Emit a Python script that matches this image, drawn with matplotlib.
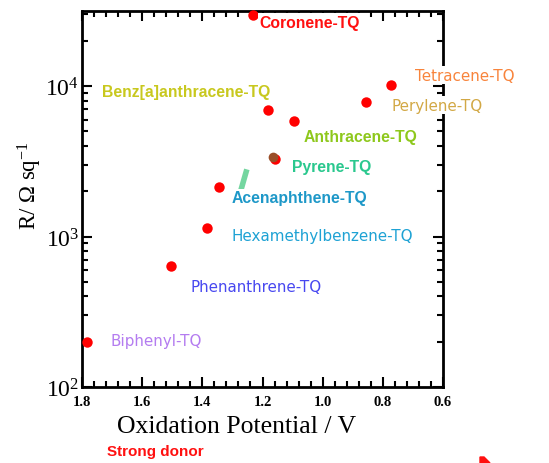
import matplotlib
matplotlib.use("Agg")
import matplotlib.pyplot as plt
from matplotlib.ticker import MultipleLocator, LogLocator, NullFormatter
from matplotlib.patches import Polygon

plt.rcParams["mathtext.fontset"] = "custom"
plt.rcParams["mathtext.rm"] = "Liberation Serif"
plt.rcParams["mathtext.it"] = "Liberation Serif:italic"

# ── Data (oxidation potential in V, sheet resistance in ohm/sq) ──
names = ["Coronene-TQ", "Tetracene-TQ", "Perylene-TQ", "Benz[a]anthracene-TQ",
         "Anthracene-TQ", "Pyrene-TQ", "Acenaphthene-TQ",
         "Hexamethylbenzene-TQ", "Phenanthrene-TQ", "Biphenyl-TQ"]
potential = [1.233, 0.774, 0.856, 1.183, 1.096, 1.158, 1.344, 1.384, 1.503, 1.782]
resistance = [29900, 10200, 7820, 6920, 5870, 3280, 2145, 1143, 637, 199]

pyrene_x = [1.164]
pyrene_y = [3380]

# label anchor points (left edge, vertical centre)
label_x = [1.209, 0.694, 0.770, 1.734, 1.062, 1.102, 1.302, 1.302, 1.438, 1.704]
label_y = [26700, 11840, 7470, 9260, 4640, 2930, 1820, 1016, 464, 203]
label_colors = ["#ff1010", "#f8843c", "#d2a845", "#c8c81e", "#8ec81c",
                "#2ac88e", "#1e98c8", "#1ea2d4", "#4848f0", "#b47cf0"]
label_bold = [True, False, False, True, True, True, True, False, False, False]

# small green mark left on the original
mark_x = [1.272, 1.252]
mark_y = [2030, 2800]

fig = plt.figure(figsize=(5.49, 4.64), dpi=100)
ax = fig.add_axes([82 / 549, 1 - 388 / 464, 361 / 549, 376 / 464])

ax.set_yscale("log")
ax.set_xlim(1.8, 0.6)
ax.set_ylim(100, 10 ** 4.5)

ax.plot(mark_x, mark_y, color="#74d6a0", lw=4, solid_capstyle="butt", zorder=2)
ax.plot(potential, resistance, "o", color="#ff0000", ms=7.5, mec="none",
        clip_on=False, zorder=4)
ax.plot(pyrene_x, pyrene_y, "o", color="#9a4e28", ms=7, mec="none",
        clip_on=False, zorder=4)

for nm, lx, ly, c, b in zip(names, label_x, label_y, label_colors, label_bold):
    ax.text(lx, ly, nm, color=c, fontsize=11.3 if b else 10.9,
            family="Liberation Sans" if b else "DejaVu Sans",
            fontweight="bold" if b else "normal",
            ha="left", va="center", zorder=5,
            bbox=dict(facecolor="white", edgecolor="none", pad=1))

# ticks
ax.xaxis.set_major_locator(MultipleLocator(0.2))
ax.xaxis.set_minor_locator(MultipleLocator(0.04))
ax.yaxis.set_major_locator(LogLocator(base=10))
ax.yaxis.set_minor_locator(LogLocator(base=10, subs=range(2, 10)))
ax.yaxis.set_minor_formatter(NullFormatter())
ax.tick_params(which="both", direction="in", top=True, right=True, width=1.5)
ax.tick_params(which="major", length=7)
ax.tick_params(which="minor", length=4)
ax.tick_params(axis="x", pad=6)
ax.set_xticks([1.8, 1.6, 1.4, 1.2, 1.0, 0.8, 0.6])
ax.set_xticklabels(["1.8", "1.6", "1.4", "1.2", "1.0", "0.8", "0.6"],
                   family="Liberation Serif", fontweight="bold", fontsize=10.5)
ax.set_yticks([100, 1000, 10000])
ax.set_yticklabels([r"$10^2$", r"$10^3$", r"$10^4$"], fontsize=17)
ax.tick_params(axis="y", pad=2)
for s in ax.spines.values():
    s.set_linewidth(2)

fig.text(237 / 549, 1 - 427 / 464, "Oxidation Potential / V", family="Liberation Serif",
         fontsize=18.5, ha="center", va="center")
fig.text(30 / 549, 1 - 186 / 464, r"R/ $\Omega$ sq$^{-1}$", family="Liberation Serif",
         fontsize=16.5, rotation=90, ha="center", va="center")
fig.text(107 / 549, 1 - 452 / 464, "Strong donor", color="#ff1010",
         family="Liberation Sans", fontweight="bold", fontsize=11, ha="left", va="center")
fig.add_artist(Polygon([[480 / 549, 1 - 458 / 464], [484 / 549, 1 - 458 / 464],
                        [490 / 549, 0.0], [480 / 549, 0.0]],
                       closed=True, color="#ff1010", transform=fig.transFigure))

fig.savefig("out.png", dpi=100)
